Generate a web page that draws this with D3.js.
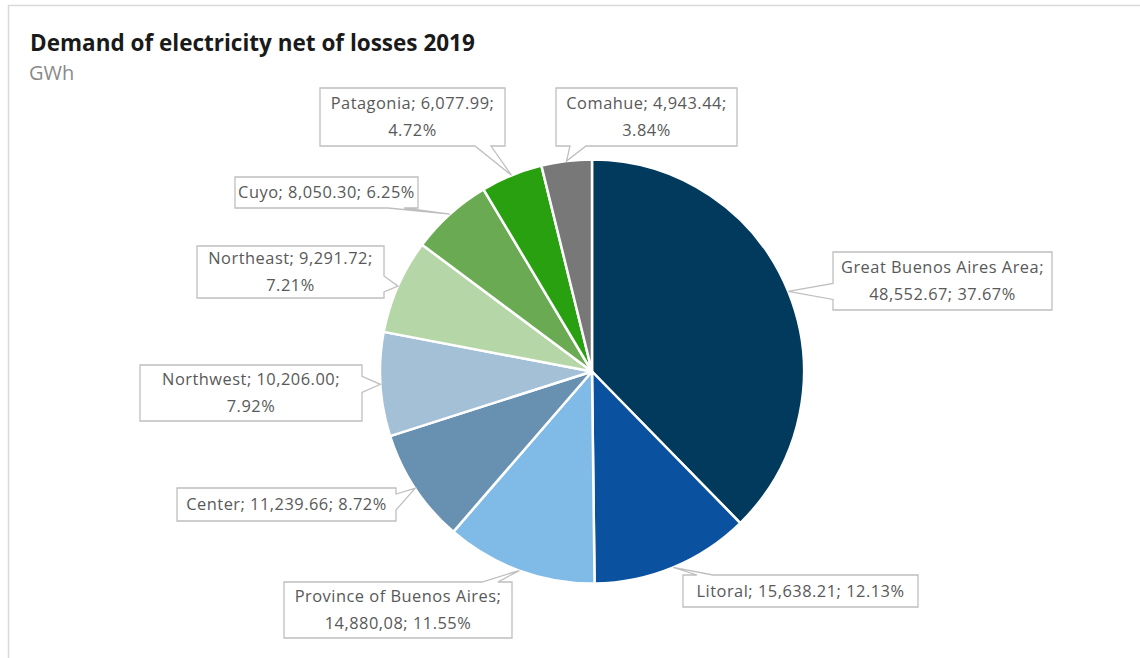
<!DOCTYPE html>
<html>
<head>
<meta charset="utf-8">
<script src="https://cdn.jsdelivr.net/npm/d3@7"></script>
<style>
  html, body { margin: 0; padding: 0; background: #fff; }
  svg { display: block; }
</style>
</head>
<body>
<svg id="chart" width="1140" height="658"></svg>
<script>
// Regions and their 2019 demand (GWh), clockwise from 12 o'clock
const regions = ["Great Buenos Aires Area", "Litoral", "Province of Buenos Aires", "Center",
  "Northwest", "Northeast", "Cuyo", "Patagonia", "Comahue"];
const demand = [48552.67, 15638.21, 14880.08, 11239.66, 10206.00, 9291.72, 8050.30, 6077.99, 4943.44];
const sliceColors = ["#023a5e", "#0a51a0", "#80bbe8", "#6790b1", "#a3c0d7", "#b5d6a6", "#6aaa52", "#28a010", "#787878"];
// Data label text, line by line
const labelText = [
  ["Great Buenos Aires Area;", "48,552.67; 37.67%"],
  ["Litoral; 15,638.21; 12.13%"],
  ["Province of Buenos Aires;", "14,880,08; 11.55%"],
  ["Center; 11,239.66; 8.72%"],
  ["Northwest; 10,206.00;", "7.92%"],
  ["Northeast; 9,291.72;", "7.21%"],
  ["Cuyo; 8,050.30; 6.25%"],
  ["Patagonia; 6,077.99;", "4.72%"],
  ["Comahue; 4,943.44;", "3.84%"]
];

// Label box placement [x, y, w, h] and the side the pointer leaves from
const labelBoxes = [
  [833, 252, 219, 58, "left"],
  [683, 575, 235, 32, "top"],
  [284, 582, 228, 56, "top"],
  [177, 488, 219, 33, "right"],
  [140, 365, 222, 56, "right"],
  [197, 246, 187, 52, "right"],
  [235, 177, 183, 31, "bottom"],
  [320, 88, 185, 58, "bottom"],
  [556, 88, 181, 58, "bottom"]
];

const svg = d3.select("#chart");
const W = 1140, H = 658;

// chart area frame
svg.append("rect").attr("x", 8.5).attr("y", 5.5).attr("width", W + 10).attr("height", H + 10)
  .attr("fill", "#fff").attr("stroke", "#d9d9d9").attr("stroke-width", 1.5);

svg.append("text").attr("x", 30).attr("y", 51)
  .attr("font-family", "'Open Sans', sans-serif").attr("font-weight", 700).attr("font-size", 22.5)
  .attr("fill", "#1a1a1a").text("Demand of electricity net of losses 2019");
svg.append("text").attr("x", 29).attr("y", 80)
  .attr("font-family", "'Open Sans', sans-serif").attr("font-size", 20)
  .attr("fill", "#8a8a8a").text("GWh");

const cx = 592, cy = 371.5, R = 212;
const data = regions.map((r, i) => ({ region: r, value: demand[i], i }));
const pie = d3.pie().sort(null).value(d => d.value).startAngle(0).endAngle(2 * Math.PI);
const arcs = pie(data);
const arc = d3.arc().innerRadius(0).outerRadius(R);

const g = svg.append("g").attr("transform", `translate(${cx},${cy})`);
g.selectAll("path.slice").data(arcs).join("path")
  .attr("class", "slice")
  .attr("d", arc)
  .attr("fill", d => sliceColors[d.data.i])
  .attr("stroke", "#fff").attr("stroke-width", 2.5).attr("stroke-linejoin", "round");

// callout box with a wedge pointing at the slice edge
function calloutPath(b, ax, ay) {
  const [x, y, w, h, side] = b;
  const x1 = x + w, y1 = y + h, half = 8, m = 14;
  const clamp = (v, lo, hi) => Math.max(lo, Math.min(hi, v));
  let p = [];
  if (side === "top") {
    const c = clamp(ax, x + m + half, x1 - m - half);
    p = [[x, y], [c - half, y], [ax, ay], [c + half, y], [x1, y], [x1, y1], [x, y1]];
  } else if (side === "bottom") {
    const c = clamp(ax, x + m + half, x1 - m - half);
    p = [[x, y], [x1, y], [x1, y1], [c + half, y1], [ax, ay], [c - half, y1], [x, y1]];
  } else if (side === "right") {
    const c = clamp(ay, y + 6 + half, y1 - 6 - half);
    p = [[x, y], [x1, y], [x1, c - half], [ax, ay], [x1, c + half], [x1, y1], [x, y1]];
  } else {
    const c = clamp(ay, y + 6 + half, y1 - 6 - half);
    p = [[x, y], [x1, y], [x1, y1], [x, y1], [x, c + half], [ax, ay], [x, c - half]];
  }
  return "M" + p.map(q => q.join(",")).join("L") + "Z";
}

const labels = svg.append("g");
arcs.forEach(a => {
  const i = a.data.i;
  const mid = (a.startAngle + a.endAngle) / 2;
  const ax = cx + R * Math.sin(mid), ay = cy - R * Math.cos(mid);
  const b = labelBoxes[i];
  labels.append("path").attr("d", calloutPath(b, ax, ay))
    .attr("fill", "#fff").attr("stroke", "#bfbfbf").attr("stroke-width", 1.3);
  const lines = labelText[i];
  const mx = b[0] + b[2] / 2, my = b[1] + b[3] / 2;
  const step = 27;
  lines.forEach((t, k) => {
    labels.append("text")
      .attr("x", mx).attr("y", my + (k - (lines.length - 1) / 2) * step)
      .attr("dy", "0.36em")
      .attr("text-anchor", "middle")
      .attr("font-family", "'Open Sans', sans-serif").attr("font-size", 16.4)
      .attr("letter-spacing", 0.5)
      .attr("fill", "#595959").text(t);
  });
});
</script>
</body>
</html>
